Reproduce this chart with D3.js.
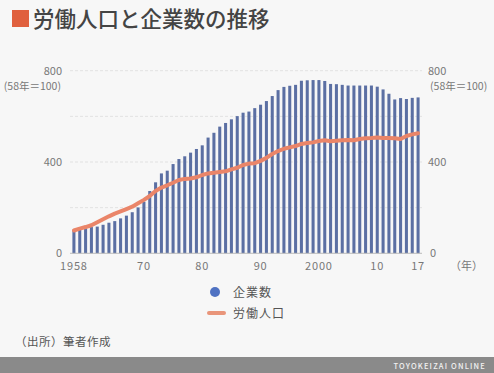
<!DOCTYPE html>
<html><head><meta charset="utf-8">
<script src="https://cdn.jsdelivr.net/npm/d3@7/dist/d3.min.js"></script>
<style>
html,body{margin:0;padding:0;background:#f7f7f7;}
svg{display:block;font-family:"Noto Sans CJK JP","Noto Sans",sans-serif;}
</style></head>
<body>
<svg id="c" width="494" height="373"></svg>
<script>
const years = d3.range(1958, 2018);
const companies = [100,105,110,115,117,125,134,141,153,165,180,201,226,273,311,350,362,391,413,425,441,457,473,507,528,555,571,587,601,616,621,636,651,667,689,715,729,734,738,756,758,759,759,755,742,741,738,735,735,735,735,735,730,718,699,674,680,676,681,683];
const labor = [100,108,115,123,136,149,162,174,184,194,204,219,234,251,273,288,298,309,321,326,328,333,343,350,353,356,359,368,375,387,393,395,405,418,435,448,458,464,470,479,483,486,492,495,491,493,495,496,495,501,504,505,507,505,505,504,501,514,521,526];
const xTickYears = [1958,1970,1980,1990,2000,2010,2017];
const xTickLabels = ["1958","70","80","90","2000","10","17"];
const yTicks = [0,400,800];
const gridTicks = [200,400,600,800];

const svg = d3.select("#c");
svg.append("rect").attr("width",494).attr("height",373).attr("fill","#f7f7f7");

// title
svg.append("rect").attr("x",12).attr("y",10).attr("width",17).attr("height",17).attr("fill","#e0603e");
svg.append("text").attr("x",33).attr("y",26.5).attr("font-size",21.5).attr("fill","#444").attr("font-weight",500).text("労働人口と企業数の推移");

const x = d3.scaleBand().domain(years).range([71,421]).paddingInner(0.48).paddingOuter(0.24);
const y = d3.scaleLinear().domain([0,800]).range([253.3,70.7]);

// grid
svg.append("g").selectAll("line").data(gridTicks).join("line")
  .attr("x1",70).attr("x2",422).attr("y1",d=>y(d)).attr("y2",d=>y(d))
  .attr("stroke","#dcdcdc").attr("stroke-width",0.8).attr("stroke-dasharray","3,2");

// bars
svg.append("g").selectAll("rect").data(years).join("rect")
  .attr("x",d=>x(d)).attr("width",x.bandwidth())
  .attr("y",(d,i)=>y(companies[i])).attr("height",(d,i)=>y(0)-y(companies[i]))
  .attr("fill","#5b6fa3");

// baseline
svg.append("line").attr("x1",70).attr("x2",422).attr("y1",y(0)).attr("y2",y(0)).attr("stroke","#bbb").attr("stroke-width",1);

// line
const line = d3.line().x((d,i)=>x(years[i])+x.bandwidth()/2).y(d=>y(d)).curve(d3.curveLinear);
svg.append("path").datum(labor).attr("d",line).attr("fill","none")
  .attr("stroke","#ea8569").attr("stroke-width",4).attr("stroke-linejoin","round").attr("stroke-linecap","round");

// left axis labels
const axCol = "#777";
svg.append("g").selectAll("text").data(yTicks).join("text")
  .attr("x",62).attr("y",d=>y(d)+4).attr("text-anchor","end").attr("font-size",11).attr("fill",axCol).text(d=>d);
svg.append("text").attr("x",61).attr("y",90).attr("text-anchor","end").attr("font-size",10.5).attr("fill",axCol).text("(58年＝100)");
// right axis labels
svg.append("g").selectAll("text").data(yTicks).join("text")
  .attr("x",d=>d===0?430:428).attr("y",d=>y(d)+4).attr("text-anchor","start").attr("font-size",11).attr("fill",axCol).text(d=>d);
svg.append("text").attr("x",430).attr("y",90).attr("text-anchor","start").attr("font-size",10.5).attr("fill",axCol).text("(58年＝100)");

// x labels
svg.append("g").selectAll("text").data(xTickYears).join("text")
  .attr("x",d=>x(d)+x.bandwidth()/2).attr("y",270).attr("text-anchor","middle").attr("font-size",11).attr("fill",axCol)
  .attr("letter-spacing",0.8)
  .text((d,i)=>xTickLabels[i]);
svg.append("text").attr("x",450).attr("y",270).attr("font-size",11).attr("fill",axCol).text("（年）");

// legend
svg.append("circle").attr("cx",215).attr("cy",292).attr("r",5).attr("fill","#4f72c2");
svg.append("text").attr("x",233).attr("y",296.5).attr("font-size",12).attr("fill","#555").attr("letter-spacing",1).text("企業数");
svg.append("line").attr("x1",209).attr("x2",224).attr("y1",313).attr("y2",313).attr("stroke","#e9957a").attr("stroke-width",4).attr("stroke-linecap","round");
svg.append("text").attr("x",233).attr("y",317.5).attr("font-size",12).attr("fill","#555").attr("letter-spacing",1).text("労働人口");

// source
svg.append("text").attr("x",15).attr("y",346).attr("font-size",11.5).attr("fill","#555").attr("letter-spacing",0.5).text("（出所）筆者作成");

// footer
svg.append("rect").attr("x",0).attr("y",357).attr("width",494).attr("height",16).attr("fill","#8a8a8a");
svg.append("text").attr("x",486).attr("y",369).attr("text-anchor","end").attr("font-size",7.5).attr("fill","#f2f2f2").attr("letter-spacing",1.2).attr("font-weight",500).text("TOYOKEIZAI ONLINE");
</script>
</body></html>
